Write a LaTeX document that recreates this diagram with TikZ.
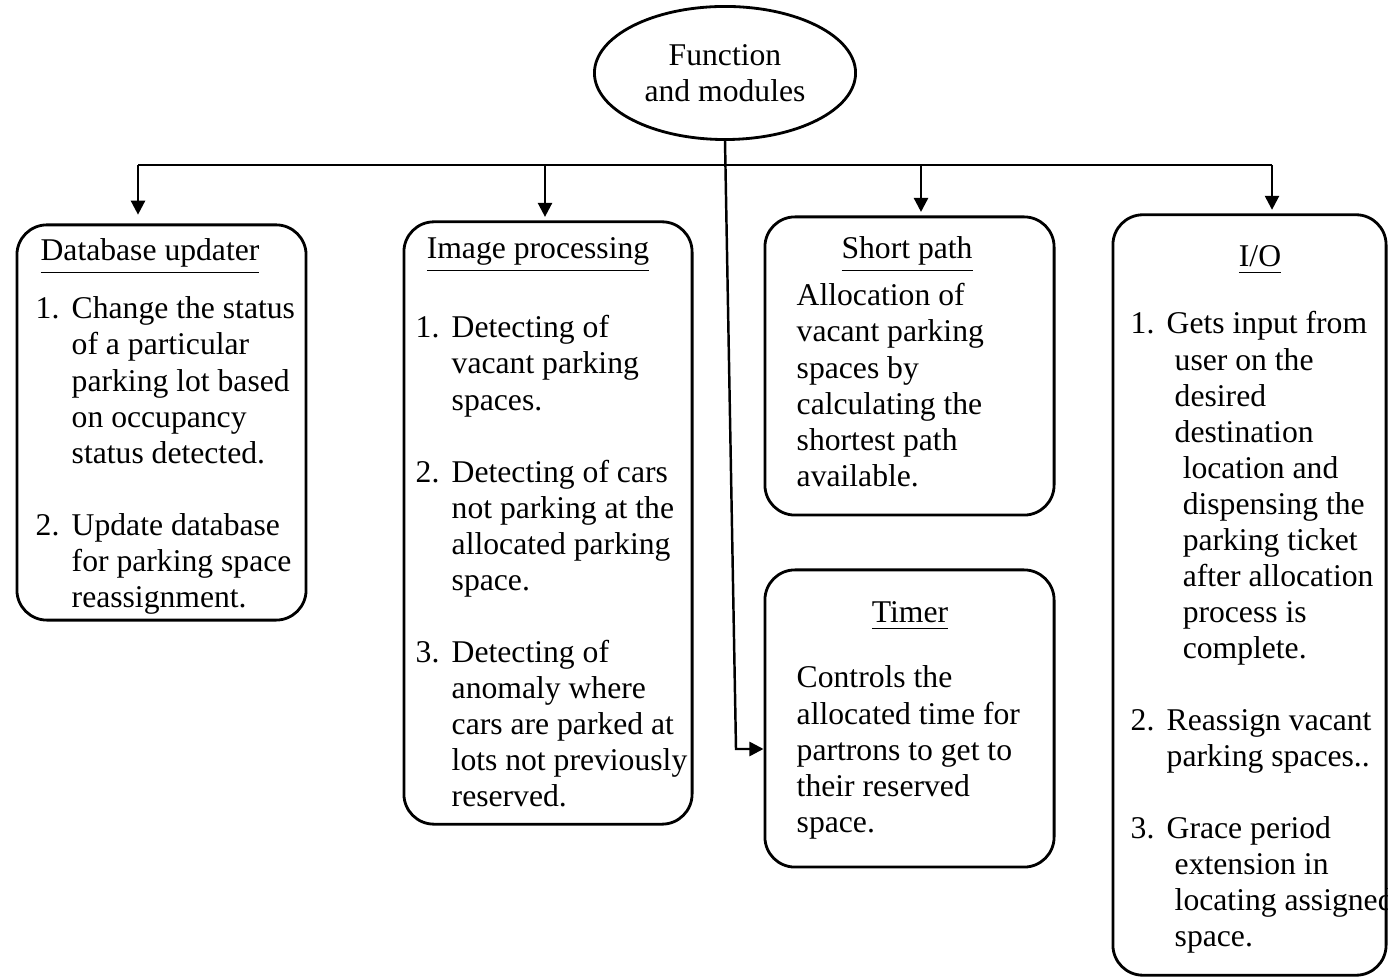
\documentclass[tikz,border=0pt]{standalone}
\usepackage{fontspec}
\setmainfont{Liberation Serif}
\usetikzlibrary{positioning,shapes.geometric,arrows.meta}
\tikzset{
	module/.style={draw, rounded corners=0.3cm, line width=0.8pt, inner sep=0},
	root/.style={draw, ellipse, line width=0.8pt, align=center, inner sep=0, minimum width=2.61cm, minimum height=1.33cm},
	title/.style={anchor=base, inner sep=0},
	body/.style={anchor=base west, inner sep=0},
	link/.style={line width=0.7pt},
	arr/.style={line width=0.7pt, -{Triangle[length=4pt,width=4pt]}, shorten >=1pt}
}
\newcommand{\itm}[1]{\makebox[0.36cm][l]{#1}}

\begin{document}
\begin{tikzpicture}[x=0.01cm, y=-0.01cm, font=\fontsize{9}{10.24}\selectfont]
	\useasboundingbox [fill=white] (0,0) rectangle (1388,977);
	
	\node [root] (fm) at (725,73) {Function\\and modules};
	
	\node [module, minimum width=2.89cm, minimum height=3.95cm] (db) at (161.5,422.5) {};
	\node [module, minimum width=2.88cm, minimum height=6.02cm] (img) at (548,523) {};
	\node [module, minimum width=2.89cm, minimum height=2.98cm] (sp) at (909.5,366) {};
	\node [module, minimum width=2.89cm, minimum height=2.97cm] (tm) at (909.5,718.5) {};
	\node [module, minimum width=2.73cm, minimum height=7.60cm] (io) at (1249.5,595) {};
	
	\node [title] (dbtitle) at (150,261) {\underline{Database updater}};
	\node [body] (dbtext) at (35,319) {\begin{tabular}[t]{@{}l@{}}
		\itm{1.}Change the status\\
		\itm{}of a particular\\
		\itm{}parking lot based\\
		\itm{}on occupancy\\
		\itm{}status detected.\\
		\\
		\itm{2.}Update database\\
		\itm{}for parking space\\
		\itm{}reassignment.
	\end{tabular}};
	
	\node [title] (imgtitle) at (538,259) {\underline{Image processing}};
	\node [body] (imgtext) at (415,338) {\begin{tabular}[t]{@{}l@{}}
		\itm{1.}Detecting of\\
		\itm{}vacant parking\\
		\itm{}spaces.\\
		\\
		\itm{2.}Detecting of cars\\
		\itm{}not parking at the\\
		\itm{}allocated parking\\
		\itm{}space.\\
		\\
		\itm{3.}Detecting of\\
		\itm{}anomaly where\\
		\itm{}cars are parked at\\
		\itm{}lots not previously\\
		\itm{}reserved.
	\end{tabular}};
	
	\node [title] (sptitle) at (907,259) {\underline{Short path}};
	\node [body] (sptext) at (796,306) {\begin{tabular}[t]{@{}l@{}}
		Allocation of\\
		vacant parking\\
		spaces by\\
		calculating the\\
		shortest path\\
		available.
	\end{tabular}};
	
	\node [title] (tmtitle) at (910,623) {\underline{Timer}};
	\node [body] (tmtext) at (796,688) {\begin{tabular}[t]{@{}l@{}}
		Controls the\\
		allocated time for\\
		partrons to get to\\
		their reserved\\
		space.
	\end{tabular}};
	
	\node [title] (iotitle) at (1260,267) {\underline{I/O}};
	\node [body] (iotext) at (1130,334) {\begin{tabular}[t]{@{}l@{}}
		\itm{1.}Gets input from\\
		\itm{}\hspace{0.08cm}user on the\\
		\itm{}\hspace{0.08cm}desired\\
		\itm{}\hspace{0.08cm}destination\\
		\itm{}\hspace{0.16cm}location and\\
		\itm{}\hspace{0.16cm}dispensing the\\
		\itm{}\hspace{0.16cm}parking ticket\\
		\itm{}\hspace{0.16cm}after allocation\\
		\itm{}\hspace{0.16cm}process is\\
		\itm{}\hspace{0.16cm}complete.\\
		\\
		\itm{2.}Reassign vacant\\
		\itm{}parking spaces..\\
		\\
		\itm{3.}Grace period\\
		\itm{}\hspace{0.08cm}extension in\\
		\itm{}\hspace{0.08cm}locating assigned\\
		\itm{}\hspace{0.08cm}space.
	\end{tabular}};
	
	\coordinate (b1) at (138,165);
	\coordinate (b2) at (545,165);
	\coordinate (b3) at (921,165);
	\coordinate (b4) at (1272,165);
	\coordinate (bend) at (736,749);
	
	\draw [link] (b1) -- (b4);
	\draw [arr, shorten >=2.5pt] (b1) -- (b1 |- db.north);
	\draw [arr] (b2) -- (b2 |- img.north);
	\draw [arr] (b3) -- (b3 |- sp.north);
	\draw [arr] (b4) -- (b4 |- io.north);
	\draw [arr, shorten >=0pt] (fm.south) -- (bend) -- (bend -| tm.west);
\end{tikzpicture}
\end{document}
